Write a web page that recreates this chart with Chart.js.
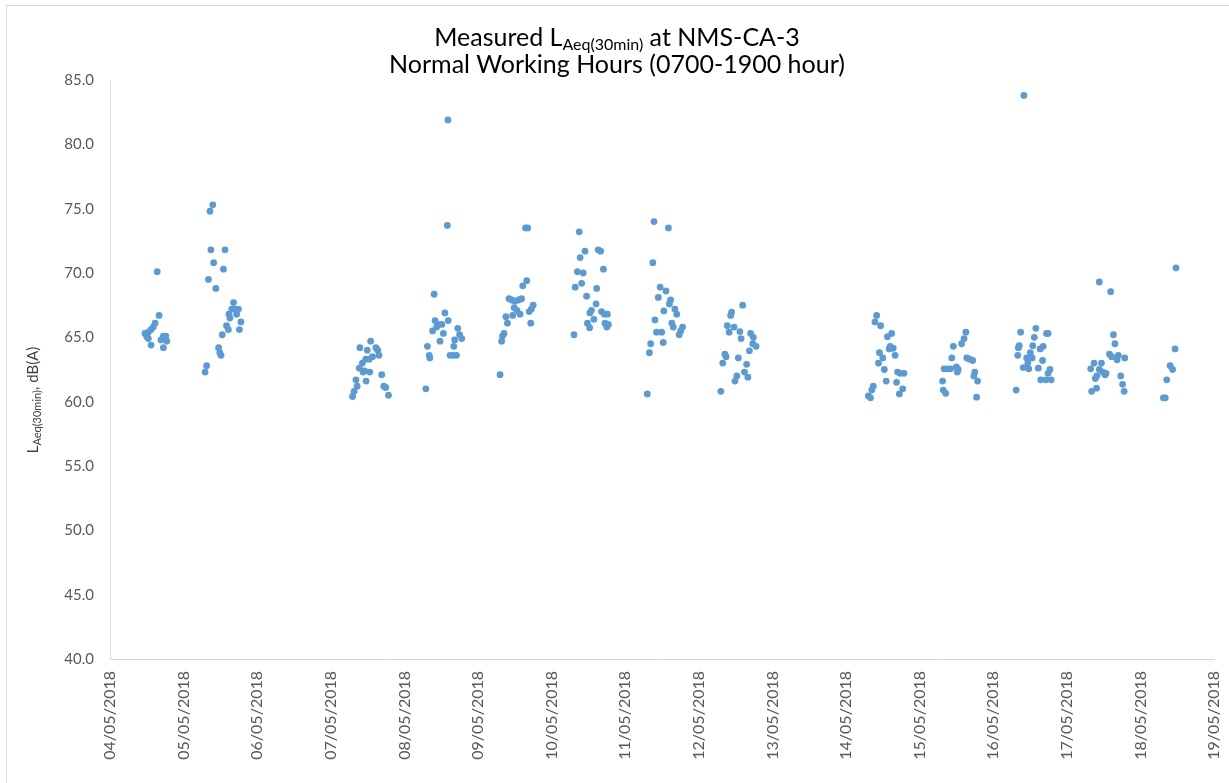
<!DOCTYPE html>
<html>
<head>
<meta charset="utf-8">
<script src="https://cdn.jsdelivr.net/npm/chart.js@4.4.1/dist/chart.umd.min.js"></script>
<style>
  html, body { margin: 0; padding: 0; background: #fff; }
  #noiseChart { display: block; }
</style>
</head>
<body>
<canvas id="noiseChart" width="1229" height="783"></canvas>
<script>
// measured LAeq(30min) per day, [hour of day, dB(A)]
const day04 = [[11.4,65.3],[12.0,65.05],[12.5,65.4],[12.5,64.9],[13.4,65.6],[13.4,64.4],[14.1,65.8],[14.7,66.1],[15.4,70.1],[16.0,66.7],[16.6,64.8],[17.4,65.1],[17.4,64.2],[18.2,65.1],[18.5,64.7]];
const day05 = [[7.0,62.3],[7.5,62.8],[8.1,69.5],[8.6,74.8],[8.9,71.8],[9.5,75.3],[9.8,70.8],[10.5,68.8],[11.4,64.2],[11.8,63.8],[12.2,63.6],[12.6,65.2],[13.0,70.3],[13.5,71.8],[14.0,65.9],[14.6,65.6],[14.8,66.8],[15.1,66.5],[15.7,67.2],[16.3,67.7],[16.8,67.2],[17.3,66.8],[17.9,67.2],[18.2,65.6],[18.7,66.2]];
const day07 = [[7.1,60.4],[7.6,60.8],[8.2,61.7],[8.6,61.2],[9.3,62.6],[9.5,64.2],[10.3,63.0],[10.5,62.3],[11.0,62.4],[11.4,63.3],[11.5,61.6],[11.9,64.0],[12.5,63.3],[12.7,62.3],[13.0,64.7],[13.6,63.5],[14.7,64.2],[15.3,64.0],[15.7,63.6],[16.6,62.1],[17.3,61.2],[17.9,61.1],[18.8,60.5]];
const day08 = [[7.0,61.0],[7.5,64.3],[8.1,63.6],[8.3,63.4],[9.2,65.5],[9.7,68.35],[10.0,66.3],[10.5,65.8],[10.9,66.0],[11.6,64.7],[12.2,66.0],[12.7,65.3],[13.2,66.9],[14.0,73.7],[14.2,81.9],[14.3,66.3],[14.9,63.6],[15.9,63.6],[16.1,64.3],[16.4,64.8],[17.0,63.6],[17.4,65.7],[18.0,65.2],[18.7,64.9]];
const day09 = [[7.2,62.1],[7.7,64.7],[8.0,65.1],[8.5,65.3],[9.1,66.6],[9.6,66.1],[10.1,68.0],[11.0,67.9],[11.3,66.7],[11.8,67.3],[12.0,67.8],[12.7,67.1],[13.2,67.9],[13.7,66.8],[14.2,68.0],[14.6,69.0],[15.5,73.5],[15.9,69.4],[16.2,73.5],[16.7,67.0],[17.2,66.1],[17.4,67.2],[18.0,67.5]];
const day10 = [[7.3,65.2],[7.7,68.9],[8.4,70.1],[9.0,73.2],[9.3,71.2],[9.8,69.2],[10.3,70.0],[10.9,71.7],[11.4,68.2],[11.7,66.1],[12.4,65.75],[12.5,66.9],[13.0,67.1],[13.8,66.4],[14.5,67.6],[14.7,68.8],[15.2,71.8],[16.0,71.7],[16.3,67.0],[16.9,70.3],[17.2,66.8],[17.4,66.1],[18.0,65.8],[18.2,66.8],[18.5,66.0]];
const day11 = [[7.2,60.6],[7.9,63.8],[8.3,64.5],[9.0,70.8],[9.4,74.0],[9.7,66.35],[10.2,65.4],[10.8,68.1],[11.4,68.9],[11.9,65.4],[12.4,64.6],[12.6,67.05],[13.3,68.6],[14.1,73.5],[14.4,67.6],[14.8,67.9],[15.2,66.1],[15.7,65.8],[16.2,67.2],[16.8,66.8],[17.6,65.2],[18.1,65.5],[18.7,65.8]];
const day12 = [[7.2,60.8],[7.8,63.0],[8.5,63.7],[8.9,63.5],[9.3,65.9],[9.9,65.4],[10.4,66.7],[10.7,66.95],[11.5,65.8],[11.8,61.6],[12.4,62.0],[12.9,63.4],[13.4,65.45],[13.8,64.9],[14.3,67.5],[14.9,62.3],[15.6,62.9],[16.0,61.9],[16.5,63.95],[16.9,65.3],[17.6,64.5],[17.8,65.0],[18.7,64.3]];
const day14 = [[7.3,60.45],[8.0,60.3],[8.4,60.9],[8.9,61.2],[9.45,66.2],[10.0,66.7],[10.6,63.0],[10.9,63.8],[11.3,65.9],[12.0,63.4],[12.5,62.5],[13.1,61.6],[13.5,65.05],[14.1,64.1],[14.4,64.3],[14.9,65.3],[15.4,64.15],[16.0,63.6],[16.5,61.5],[16.8,62.3],[17.4,60.6],[17.7,62.2],[18.5,61.0],[18.9,62.2]];
const day15 = [[7.5,61.6],[7.7,60.9],[8.0,62.55],[8.5,60.65],[9.0,62.55],[10.1,62.55],[10.5,63.4],[11.0,64.3],[12.0,62.7],[12.3,62.3],[12.6,62.5],[13.7,64.5],[14.5,64.9],[15.1,65.4],[15.4,63.4],[16.3,63.3],[17.3,63.2],[17.7,62.0],[18.0,62.3],[18.6,60.35],[18.9,61.6]];
const day16 = [[7.5,60.9],[8.0,63.6],[8.2,64.2],[8.5,64.35],[8.95,65.4],[9.8,62.65],[10.0,83.8],[10.9,63.4],[11.3,63.0],[11.6,62.55],[12.1,63.8],[12.7,63.4],[12.9,64.35],[13.4,65.0],[13.9,65.7],[14.7,62.6],[15.3,64.1],[15.5,61.7],[16.1,63.2],[16.3,64.3],[17.2,61.7],[17.4,65.3],[17.9,65.3],[17.9,62.2],[18.5,62.5],[18.9,61.7]];
const day17 = [[7.8,62.55],[8.1,60.8],[8.9,63.0],[9.3,61.8],[9.7,61.05],[9.8,62.0],[10.6,69.3],[10.6,62.5],[11.3,63.0],[11.7,62.3],[12.5,62.1],[12.8,62.2],[13.9,63.7],[14.3,68.55],[14.6,63.5],[15.2,65.2],[15.7,64.5],[16.4,63.25],[16.8,63.6],[17.6,62.0],[18.2,61.35],[18.7,60.8],[18.9,63.4]];
const day18 = [[7.5,60.3],[8.1,60.3],[8.6,61.7],[9.7,62.8],[10.5,62.5],[11.3,64.1],[11.6,70.4]];

const dayNumbers = [4, 5, 7, 8, 9, 10, 11, 12, 14, 15, 16, 17, 18];
const dayData = [day04, day05, day07, day08, day09, day10, day11, day12, day14, day15, day16, day17, day18];

const xTicks = [4, 5, 6, 7, 8, 9, 10, 11, 12, 13, 14, 15, 16, 17, 18, 19];
const yTicks = [40, 45, 50, 55, 60, 65, 70, 75, 80, 85];

const FONT = 'Lato, "Open Sans", sans-serif';
const BLUE = '#5B9BD5';
const GREY = '#595959';
const LINE = '#d9d9d9';

// day-of-month + hour/24 on a linear axis
function buildPoints() {
  const pts = [];
  dayData.forEach((list, i) => {
    list.forEach(p => pts.push({ x: dayNumbers[i] + p[0] / 24, y: p[1] }));
  });
  return pts;
}

function dateLabel(v) {
  const d = Math.round(v);
  return (d < 10 ? '0' + d : '' + d) + '/05/2018';
}

// draw a line of text pieces, some of them subscript
function drawParts(ctx, parts, x, y) {
  let total = 0;
  parts.forEach(p => {
    ctx.font = p.size + 'px ' + FONT;
    p.w = ctx.measureText(p.t).width;
    total += p.w;
  });
  let cx = x - total / 2;
  parts.forEach(p => {
    ctx.font = p.size + 'px ' + FONT;
    ctx.fillText(p.t, cx, y + (p.dy || 0));
    cx += p.w;
  });
}

const textPlugin = {
  id: 'textPlugin',
  beforeDraw(chart) {
    const ctx = chart.ctx;
    ctx.save();
    ctx.strokeStyle = LINE;
    ctx.lineWidth = 1;
    ctx.strokeRect(6.5, 5.5, chart.width + 20, chart.height + 20);
    ctx.restore();
  },
  afterDraw(chart) {
    const ctx = chart.ctx;
    ctx.save();
    ctx.textBaseline = 'alphabetic';
    ctx.textAlign = 'left';
    ctx.fillStyle = '#000';
    drawParts(ctx, [
      { t: 'Measured L', size: 25 },
      { t: 'Aeq(30min)', size: 16, dy: 4 },
      { t: ' at NMS-CA-3', size: 25 }
    ], 617, 46);
    drawParts(ctx, [{ t: 'Normal Working Hours (0700-1900 hour)', size: 25 }], 617, 73);

    ctx.translate(38, 400);
    ctx.rotate(-Math.PI / 2);
    ctx.fillStyle = '#404040';
    drawParts(ctx, [
      { t: 'L', size: 15 },
      { t: 'Aeq(30min)', size: 11, dy: 3 },
      { t: ', dB(A)', size: 15 }
    ], 0, 0);
    ctx.restore();
  }
};

new Chart(document.getElementById('noiseChart').getContext('2d'), {
  type: 'scatter',
  data: {
    datasets: [{
      label: 'LAeq(30min)',
      data: buildPoints(),
      backgroundColor: BLUE,
      borderColor: BLUE,
      borderWidth: 0,
      pointRadius: 3.4
    }]
  },
  options: {
    responsive: false,
    animation: false,
    layout: { padding: { top: 80, left: 0, right: 0, bottom: 0 } },
    plugins: {
      legend: { display: false },
      tooltip: { enabled: false }
    },
    scales: {
      x: {
        type: 'linear',
        min: 4,
        max: 19,
        afterBuildTicks: s => { s.ticks = xTicks.map(v => ({ value: v })); },
        afterFit: s => { s.height = 124; s.paddingLeft = 0; s.paddingRight = 15; },
        grid: { display: false, drawTicks: false },
        border: { display: true, color: LINE, width: 1 },
        ticks: {
          autoSkip: false,
          minRotation: 90,
          maxRotation: 90,
          padding: 12,
          color: GREY,
          font: { family: FONT, size: 16 },
          callback: v => dateLabel(v)
        }
      },
      y: {
        min: 40,
        max: 85,
        afterBuildTicks: s => { s.ticks = yTicks.map(v => ({ value: v })); },
        afterFit: s => { s.width = 110; },
        grid: { display: false, drawTicks: false },
        border: { display: true, color: LINE, width: 1 },
        ticks: {
          padding: 16,
          color: GREY,
          font: { family: FONT, size: 15 },
          callback: v => v.toFixed(1)
        }
      }
    }
  },
  plugins: [textPlugin]
});
</script>
</body>
</html>
